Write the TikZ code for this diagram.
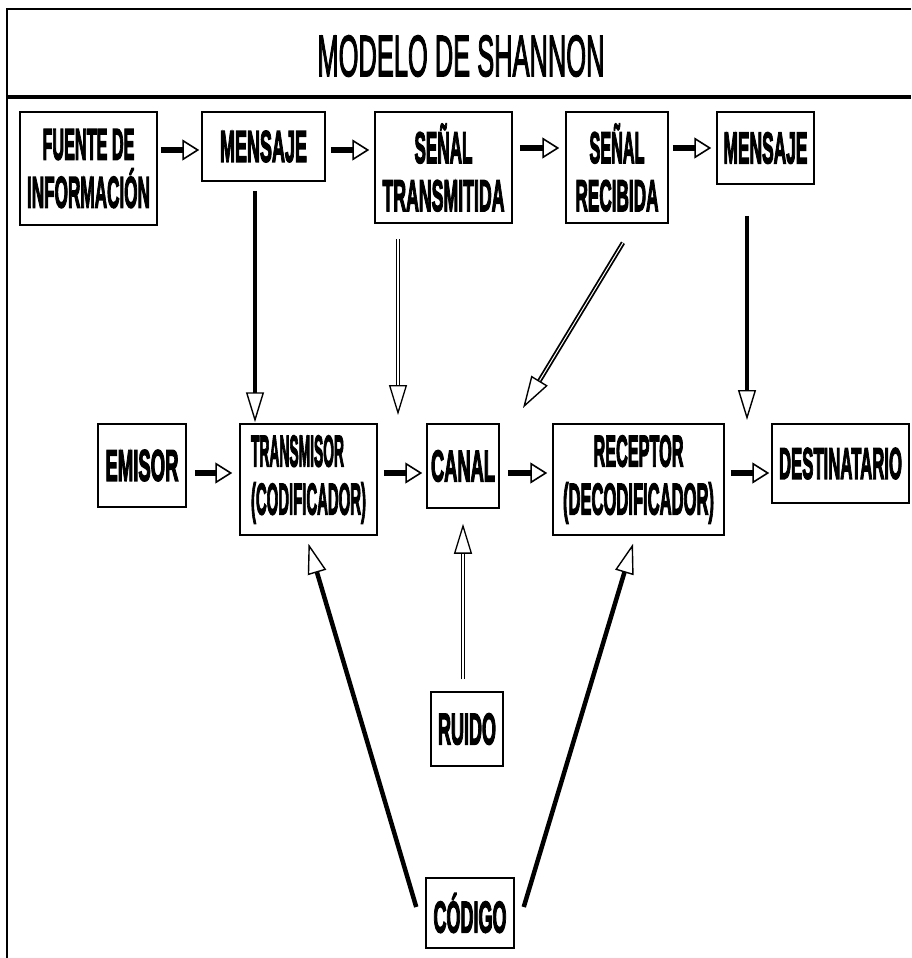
\documentclass[tikz,border=0pt]{standalone}
\usepackage{fontspec}
\usepackage{graphicx}
\usetikzlibrary{arrows.meta,calc}
\newfontfamily\boxfont[FakeBold=4]{Liberation Sans Bold}
\newfontfamily\titlefont[FakeBold=3]{Liberation Sans}
\newcommand\fitw[2]{\resizebox{#1pt}{\height}{#2}}
\tikzset{
  box/.style={draw, line width=1.5pt, inner sep=0pt, align=center,
    font=\boxfont\fontsize{44}{48}\selectfont},
  harr/.style={line width=6.5pt, -{Triangle[open, length=17pt, width=21pt, line width=1.6pt]}},
  varr/.style={line width=4pt, -{Triangle[open, length=30pt, width=18pt, line width=1.4pt]}},
  uarr/.style={line width=4.5pt, -{Triangle[open, length=30pt, width=19pt, line width=1.4pt]}},
  dthin/.style={double, line width=1pt, double distance=2.2pt, -{Triangle[open, length=30pt, width=18pt, line width=1.3pt]}},
  dthick/.style={double, line width=1.8pt, double distance=1pt, -{Triangle[open, length=32pt, width=19pt, line width=1.4pt]}},
}
\begin{document}
\begin{tikzpicture}[x=1pt,y=-1pt]
\useasboundingbox (0,0) rectangle (911,958);
% frame
\draw[line width=2pt] (7,958) -- (7,9) -- (911,9);
\draw[line width=3.5pt] (7,97) -- (911,97);
\node[anchor=base, font=\titlefont\fontsize{58}{62}\selectfont, inner sep=0pt] (title) at (461,76) {\fitw{287}{MODELO DE SHANNON}};

% top row
\node[box, minimum width=137pt, minimum height=113pt] (fuente) at (88.5,168.5) {\fitw{92}{FUENTE DE}\\\fitw{123}{INFORMACIÓN}};
\node[box, minimum width=123pt, minimum height=69pt] (men1) at (263.5,146.5) {\fitw{87}{MENSAJE}};
\node[box, minimum width=137pt, minimum height=111pt] (senT) at (443.5,167.5) {\fitw{58}{SEÑAL}\\\fitw{122}{TRANSMITIDA}};
\node[box, minimum width=102pt, minimum height=111pt] (senR) at (617,167.5) {\fitw{55}{SEÑAL}\\\fitw{83}{RECIBIDA}};
\node[box, minimum width=97pt, minimum height=72pt] (men2) at (765.5,148) {\fitw{84}{MENSAJE}};

% middle row
\node[box, minimum width=88pt, minimum height=83pt] (emisor) at (142,465.5) {\fitw{73}{EMISOR}};
\node[box, minimum width=137pt, minimum height=111pt, align=left] (trans) at (308.5,479.5) {\fitw{93}{TRANSMISOR}\\\fitw{115}{(CODIFICADOR)}};
\node[box, minimum width=72pt, minimum height=84pt] (canal) at (463,466) {\fitw{64}{CANAL}};
\node[box, minimum width=171pt, minimum height=111pt] (recep) at (638.5,479.5) {\fitw{90}{RECEPTOR}\\\fitw{151}{(DECODIFICADOR)}};
\node[box, minimum width=137pt, minimum height=79pt] (dest) at (840.5,463.5) {\fitw{123}{DESTINATARIO}};

% bottom
\node[box, minimum width=72pt, minimum height=74pt] (ruido) at (467,729) {\fitw{58}{RUIDO}};
\node[box, minimum width=88pt, minimum height=70pt] (codigo) at (470,913) {\fitw{73}{CÓDIGO}};

% helper coordinates
\coordinate (r1) at (0,150);
\coordinate (r1b) at (0,148);
\coordinate (r2) at (0,473);
\coordinate (c1) at (255,0);
\coordinate (c2) at (398,0);
\coordinate (c4) at (747,0);
\coordinate (c5) at (463,0);
\coordinate (t2) at (398,415);
\coordinate (t3) at (523,408);
\coordinate (t4) at (747,420);

% horizontal arrows top
\draw[harr, shorten <=3pt, shorten >=2pt] (fuente.east |- r1) -- (men1.west |- r1);
\draw[harr, shorten <=5pt, shorten >=5pt] (men1.east |- r1) -- (senT.west |- r1);
\draw[harr, shorten <=7pt, shorten >=6pt] (senT.east |- r1b) -- (senR.west |- r1b);
\draw[harr, shorten <=4pt, shorten >=5pt] (senR.east |- r1b) -- (men2.west |- r1b);

% horizontal arrows middle
\draw[harr, shorten <=8pt, shorten >=7pt] (emisor.east |- r2) -- (trans.west |- r2);
\draw[harr, shorten <=6pt, shorten >=4pt] (trans.east |- r2) -- (canal.west |- r2);
\draw[harr, shorten <=8pt, shorten >=5pt] (canal.east |- r2) -- (recep.west |- r2);
\draw[harr, shorten <=6pt, shorten >=2pt] (recep.east |- r2) -- (dest.west |- r2);

% downward arrows
\draw[varr, shorten <=9pt, shorten >=1pt] (c1 |- men1.south) -- (c1 |- trans.north);
\draw[dthin, shorten <=15pt] (c2 |- senT.south) -- (t2);
\draw[dthick] ($(senR.south)+(6,19)$) -- (t3);
\draw[varr, shorten <=31pt] (c4 |- men2.south) -- (t4);

% upward arrows
\draw[dthin, shorten <=12pt, shorten >=15pt] (c5 |- ruido.north) -- (c5 |- canal.south);
\draw[uarr] ($(codigo.west)+(-9,-6)$) -- ($(trans.south)+(0,8)$);
\draw[uarr] ($(codigo.east)+(9,-6)$) -- ($(recep.south)+(-5.5,8)$);
\end{tikzpicture}
\end{document}
